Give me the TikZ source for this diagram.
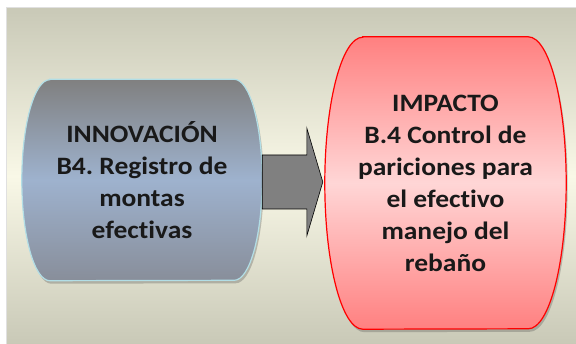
\documentclass[tikz,border=0pt]{standalone}
\usepackage{fontspec}
\setmainfont{Carlito}[Ligatures=NoCommon, FakeStretch=1.1]
\frenchspacing
\usetikzlibrary{calc,shadows,positioning}
\definecolor{paneledge}{RGB}{201,201,183}
\definecolor{panelmid}{RGB}{249,248,231}
\definecolor{innovtop}{RGB}{128,128,128}
\definecolor{innovmid}{RGB}{158,178,206}
\definecolor{innovbot}{RGB}{136,142,154}
\definecolor{innovline}{RGB}{178,222,230}
\definecolor{impactedge}{RGB}{255,128,128}
\definecolor{impactmid}{RGB}{255,214,214}
\colorlet{arrowgray}{black!50}
\pgfdeclarelayer{backdrop}
\pgfdeclarelayer{background}
\pgfsetlayers{backdrop,background,main}
\tikzset{>=latex}

% pill with elliptic sides: node, x radius, y radius, options
\newcommand{\pillshape}[4]{%
  \path[#4] ($(#1.north west)+(#2,0)$) -- ($(#1.north east)+(-#2,0)$)
    arc[start angle=90, end angle=-90, x radius=#2, y radius=#3]
    -- ($(#1.south west)+(#2,0)$)
    arc[start angle=270, end angle=90, x radius=#2, y radius=#3] -- cycle;}

\begin{document}
\begin{tikzpicture}[x=1pt, y=1pt,
  boxtext/.style={font=\fontsize{25}{32}\selectfont\bfseries, text=black!90, align=center},
  innovbox/.style={boxtext, minimum width=240pt, minimum height=201pt},
  impactbox/.style={boxtext, minimum width=241pt, minimum height=292pt},
  softshadow/.style={drop shadow={shadow xshift=1.5pt, shadow yshift=-3pt, opacity=0.3, fill=black!70}}]

    \useasboundingbox (0,0) rectangle (576,343);

    % Panel
    \begin{pgfonlayer}{backdrop}
    \fill[white] (0,0) rectangle (576,343);
    \draw[black!12, line width=1pt, top color=paneledge, bottom color=paneledge, middle color=panelmid]
        (6,-1) rectangle (578,335);
    \end{pgfonlayer}

    % Boxes
    \node[innovbox] (innov) at (142,163) {INNOVACIÓN\\B4. Registro de\\montas\\efectivas};
    \node[impactbox] (impact) at (445.5,160) {IMPACTO\\B.4 Control de\\pariciones para\\el efectivo\\manejo del\\rebaño};

    \begin{pgfonlayer}{background}
    \pillshape{innov}{28}{100.5}{softshadow, top color=innovtop, bottom color=innovbot, middle color=innovmid, draw=innovline, line width=1.2pt}
    \pillshape{impact}{38}{146}{softshadow, top color=impactedge, bottom color=impactedge, middle color=impactmid, draw=red, line width=1.2pt}
    \end{pgfonlayer}

    % Block arrow
    \coordinate (tip) at ($(impact.west)+(-2,1)$);
    \filldraw[fill=arrowgray, draw=black, line width=0.6pt]
        (innov.east |- {$(tip)+(0,27)$}) -- ($(tip)+(-16,27)$) -- ($(tip)+(-16,54)$) -- (tip)
        -- ($(tip)+(-16,-54)$) -- ($(tip)+(-16,-27)$) -- (innov.east |- {$(tip)+(0,-27)$}) -- cycle;
\end{tikzpicture}
\end{document}
